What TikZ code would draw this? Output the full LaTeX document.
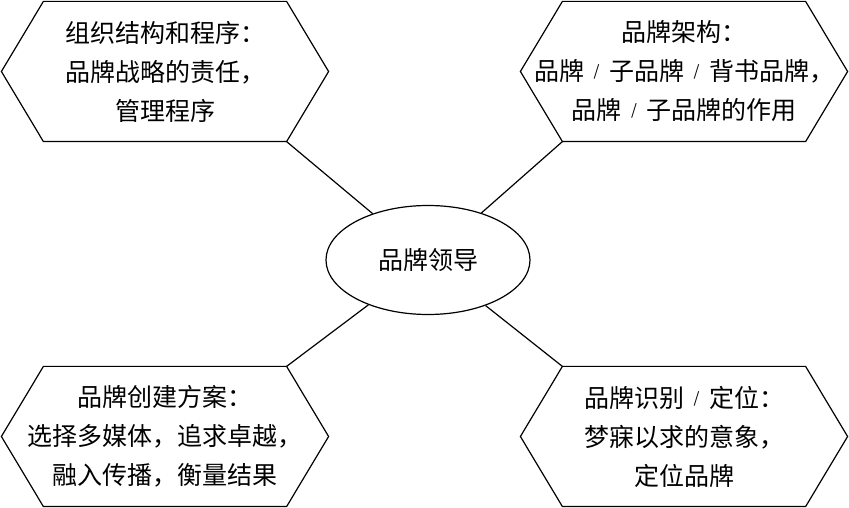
\documentclass[tikz,border=0pt]{standalone}
\usepackage{fontspec}
\newfontfamily\cjk{Noto Sans CJK SC}
\usetikzlibrary{shapes.geometric,calc}
\newcommand\hexframe[1]{\draw (#1.west) -- ($(#1.north west)+(42,0)$) -- ($(#1.north east)+(-42,0)$) -- (#1.east) -- ($(#1.south east)+(-42,0)$) -- ($(#1.south west)+(42,0)$) -- cycle;}
\newcommand\slashmark{\makebox[25pt]{\raisebox{4pt}{\fontsize{15}{15}\selectfont /}}}
\begin{document}
\begin{tikzpicture}[x=1pt, y=1pt, line width=1.2pt, line join=miter, font=\cjk\fontsize{25}{39}\selectfont,
	hexbox/.style={minimum width=326pt, minimum height=139pt, inner sep=0pt, align=center}]
	\useasboundingbox (0,0) rectangle (849,508);
	\node[hexbox] (org) at (165,436.5) {组织结构和程序：\\品牌战略的责任，\\管理程序};
	\node[hexbox] (arch) at (684,436.5) {品牌架构：\\品牌\slashmark 子品牌\slashmark 背书品牌，\\品牌\slashmark 子品牌的作用};
	\node[hexbox] (build) at (165,71.5) {品牌创建方案：\\选择多媒体，追求卓越，\\融入传播，衡量结果};
	\node[hexbox] (ident) at (684,71.5) {品牌识别\slashmark 定位：\\梦寐以求的意象，\\定位品牌};
	\node[draw, ellipse, minimum width=204pt, minimum height=109pt, inner sep=0pt] (lead) at (428,248) {品牌领导};
	\hexframe{org} \hexframe{arch} \hexframe{build} \hexframe{ident}
	\draw ($(org.south east)+(-42,0)$) -- (lead);
	\draw ($(arch.south west)+(42,0)$) -- (lead);
	\draw ($(build.north east)+(-42,0)$) -- (lead);
	\draw ($(ident.north west)+(42,0)$) -- (lead);
\end{tikzpicture}
\end{document}
